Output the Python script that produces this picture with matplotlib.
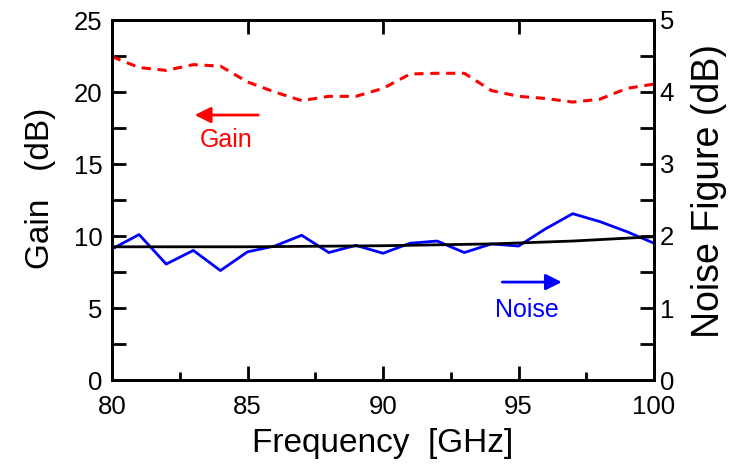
import matplotlib
matplotlib.use("Agg")
from matplotlib import pyplot as plt
from matplotlib.ticker import MultipleLocator

plt.rcParams['font.family'] = ['Liberation Sans', 'DejaVu Sans']

# gain (left axis), noise figure (right axis)
freq = [80, 81, 82, 83, 84, 85, 86, 87, 88, 89, 90,
        91, 92, 93, 94, 95, 96, 97, 98, 99, 100]
gain = [22.45, 21.7, 21.5, 21.9, 21.8, 20.7, 20.0, 19.4, 19.7, 19.7, 20.25,
        21.25, 21.3, 21.3, 20.1, 19.7, 19.55, 19.3, 19.5, 20.25, 20.55]
noise = [1.82, 2.02, 1.61, 1.80, 1.52, 1.78, 1.86, 2.01, 1.77, 1.87, 1.76,
         1.90, 1.93, 1.77, 1.89, 1.86, 2.10, 2.31, 2.20, 2.06, 1.90]
fit_freq = [80, 85, 90, 94, 97, 100]
fit_noise = [1.85, 1.85, 1.865, 1.89, 1.93, 1.99]

fig = plt.figure(figsize=(7.39, 4.67), dpi=100)
ax = fig.add_axes([112 / 739, 1 - 380 / 467, (654 - 112) / 739, (380 - 20) / 467])
ax2 = ax.twinx()

ax.plot(freq, gain, color='red', lw=2.2, dashes=(3, 2.2))
ax2.plot(freq, noise, color='blue', lw=2)
ax2.plot(fit_freq, fit_noise, color='black', lw=2)

ax.set_xlim(80, 100)
ax.set_ylim(0, 25)
ax2.set_ylim(0, 5)

ax.xaxis.set_major_locator(MultipleLocator(5))
ax.xaxis.set_minor_locator(MultipleLocator(2.5))
ax.yaxis.set_major_locator(MultipleLocator(5))
ax.yaxis.set_minor_locator(MultipleLocator(2.5))
ax2.yaxis.set_major_locator(MultipleLocator(1))
ax2.yaxis.set_minor_locator(MultipleLocator(0.5))

ax.tick_params(which='both', direction='in', width=2, labelsize=18.5)
ax.tick_params(axis='x', which='major', top=True, length=10, pad=11)
ax.tick_params(axis='x', which='minor', top=False, length=6)
ax.tick_params(axis='y', which='both', length=10, pad=7)
ax2.tick_params(which='both', direction='in', width=2, labelsize=18.5, length=10, pad=4)

for a in (ax, ax2):
    for s in a.spines.values():
        s.set_linewidth(2)

ax.set_xlabel('Frequency  [GHz]', fontsize=24)
ax.set_ylabel('Gain   (dB)', fontsize=24)
ax2.set_ylabel('Noise Figure (dB)', fontsize=27)
ax.xaxis.set_label_coords(0.5, -0.133, transform=ax.transAxes)
ax.yaxis.set_label_coords(-0.103, 0.533, transform=ax.transAxes)
ax2.yaxis.set_label_coords(1.068, 0.525, transform=ax2.transAxes)

ax.annotate('', xy=(82.95, 18.4), xytext=(85.5, 18.4),
            arrowprops=dict(arrowstyle='-|>', color='red', lw=2, mutation_scale=24))
ax.text(84.2, 16.7, 'Gain', color='red', fontsize=18, ha='center', va='center')
ax.annotate('', xy=(96.7, 6.8), xytext=(94.3, 6.8),
            arrowprops=dict(arrowstyle='-|>', color='blue', lw=2, mutation_scale=24))
ax.text(95.3, 4.85, 'Noise', color='blue', fontsize=18, ha='center', va='center')

plt.savefig('out.png', dpi=100)
